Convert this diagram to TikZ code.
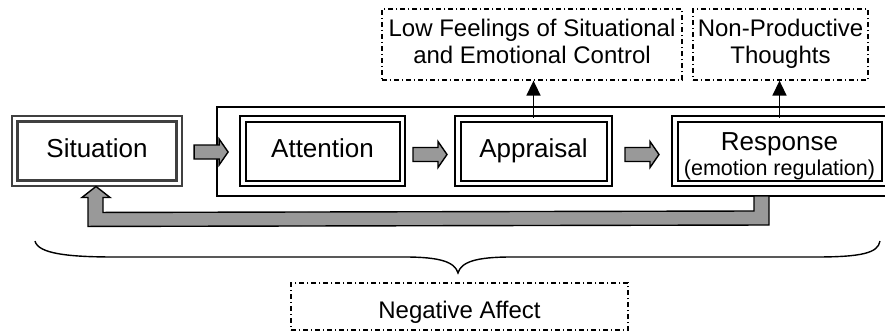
\documentclass[tikz,border=0pt]{standalone}
\usepackage{fontspec}
\setmainfont{Liberation Sans}
\usetikzlibrary{arrows.meta,calc}
\definecolor{fbgray}{HTML}{999999}
\definecolor{sitgray}{HTML}{404040}
\begin{document}
\begin{tikzpicture}[x=1pt,y=-1pt,
  mainbox/.style={draw=black, double=white, line width=2pt, double distance=3.5pt,
    minimum height=64.5pt, inner sep=0pt, font=\fontsize{26}{25}\selectfont},
  dashline/.style={draw=black, line width=1.3pt,
    dash pattern=on 5pt off 2.75pt on 1.5pt off 2.75pt, inner sep=0pt},
  twoline/.style={align=center, font=\fontsize{24}{27}\selectfont},
  blockarrow/.style={draw=black, fill=fbgray, line width=1.4pt, line join=miter},
  uparrow/.style={line width=1.6pt, -{Triangle[length=15pt,width=14pt]}},
  fbarrow/.style={fill=fbgray, draw=black, line width=1.4pt, line join=miter},
  bracestyle/.style={line width=1.4pt}]
\useasboundingbox (0,0) rectangle (885,335);
\clip (0,0) rectangle (885,335);

% container of the three stages
\node[draw, line width=1.6pt, minimum width=743pt, minimum height=89pt, inner sep=0pt] (stage) at (588.5,151.5) {};

% main boxes
\node[mainbox, draw=sitgray, line width=2.4pt, double distance=3pt, minimum width=164.5pt, text height=19pt, text depth=7pt] (sit) at (97,151) {Situation};
\node[mainbox, minimum width=159.5pt, text height=19pt, text depth=7pt] (att) at (322.5,151) {Attention};
\node[mainbox, minimum width=151.5pt, text height=19pt, text depth=7pt] (appr) at (533.5,151) {Appraisal};
\node[mainbox, minimum width=209.5pt, align=center] (resp) at (779.5,151)
  {\rule{0pt}{27.5pt}Response\\{\fontsize{21.5}{25}\selectfont (emotion regulation)}};

% block arrows between boxes
\coordinate (a1) at ($(sit.east)!0.5!(att.west)+(0,1)$);
\coordinate (a2) at ($(att.east)!0.5!(appr.west)+(0,3.5)$);
\coordinate (a3) at ($(appr.east)!0.5!(resp.west)+(0,3.5)$);
\foreach \c in {a1,a2,a3}{
  \filldraw[blockarrow] ([shift={(-17,-7)}]\c) -- ([shift={(8,-7)}]\c) -- ([shift={(8,-13)}]\c)
    -- ([shift={(17,0)}]\c) -- ([shift={(8,13)}]\c) -- ([shift={(8,7)}]\c)
    -- ([shift={(-17,7)}]\c) -- cycle;
}

% top outcome boxes
\node[dashline, twoline, minimum width=300pt, minimum height=71pt] (low) at (532,44.5)
  {\strut Low Feelings of Situational\\\strut and Emotional Control};
\node[dashline, twoline, minimum width=175pt, minimum height=71pt] (npt) at (780.5,44.5)
  {\strut Non-Productive\\\strut Thoughts};

\draw[uparrow] (appr.north) -- (appr.north |- low.south);
\draw[uparrow] (resp.north) -- (resp.north |- npt.south);

% feedback arrow from response back to situation
\coordinate (fbstart) at (761.5,196);
\coordinate (fbtip) at ($(sit.south)+(-1,2)$);
\filldraw[fbarrow] ([shift={(-7.5,0)}]fbstart) -- ([shift={(-7.5,15)}]fbstart)
  -- ([shift={(7,26)}]fbtip) -- ([shift={(7,11)}]fbtip) -- ([shift={(14,11)}]fbtip)
  -- (fbtip) -- ([shift={(-14,11)}]fbtip) -- ([shift={(-8,11)}]fbtip)
  -- ([shift={(-8,40)}]fbtip) -- ([shift={(7.5,29)}]fbstart) -- ([shift={(7.5,0)}]fbstart) -- cycle;

% brace
\draw[bracestyle] (35,241) .. controls (38,254) and (70,257) .. (115,257) -- (405,257)
  .. controls (440,257) and (455,262) .. (458,273)
  .. controls (461,262) and (476,257) .. (511,257) -- (815,257)
  .. controls (862,257) and (878,253) .. (880,241);

\node[dashline, font=\fontsize{24}{27}\selectfont, minimum width=337pt, minimum height=47pt,
  text height=24pt, text depth=1pt] (neg) at (459.5,306.5) {Negative Affect};
\end{tikzpicture}
\end{document}
